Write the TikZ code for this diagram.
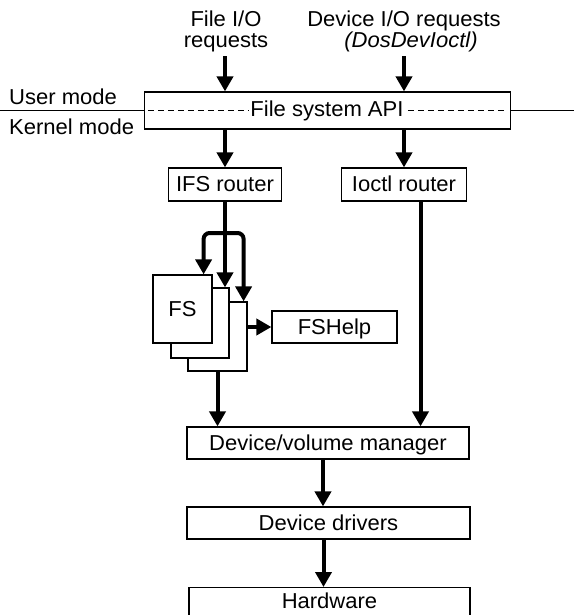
\documentclass[tikz,border=0pt]{standalone}
\usepackage{fontspec}
\setmainfont{Liberation Sans}[FakeStretch=1.02]
\usetikzlibrary{arrows.meta}
\begin{document}
\begin{tikzpicture}[x=1pt,y=-1pt,
  font=\fontsize{21.6}{22}\selectfont,
  box/.style={draw, line width=1.2pt, inner sep=0pt, text height=14pt, text depth=0pt, fill=white},
  arr/.style={line width=4pt, -{Triangle[length=15pt,width=16pt]}},
  thinline/.style={line width=1.2pt}]
\useasboundingbox (0,0) rectangle (574,615);
\clip (0,0) rectangle (574,615);
% mode divider
\coordinate (lend) at (0,111);
\coordinate (rend) at (574,111);
\node[box, minimum width=366pt, minimum height=37pt] (api) at (327.5,110.5) {};
\draw[thinline] (lend |- api.west) -- (api.west);
\draw[thinline] (api.east) -- (rend |- api.east);
\draw[line width=1pt, dash pattern=on 6pt off 4pt] ([xshift=4pt]api.west) -- ([xshift=-4pt]api.east);
\node[fill=white, inner xsep=1pt, inner ysep=0pt, text height=14pt, text depth=0pt] (apitext) at (327,110) {File system API};
% labels
\node[anchor=base] (fio1) at (226,27) {File I/O};
\node[anchor=base] (fio2) at (226,48) {requests};
\node[anchor=base] (dio1) at (404,27) {Device I/O requests};
\node[anchor=base, font=\fontsize{21.6}{22}\selectfont\itshape] (dio2) at (411,48) {(DosDevIoctl)};
\node[anchor=base west, inner sep=0pt] (um) at (9,105) {User mode};
\node[anchor=base west, inner sep=0pt] (km) at (9,135) {Kernel mode};
% boxes
\node[box, minimum width=113pt, minimum height=33pt] (ifs) at (225,184.5) {IFS router};
\node[box, minimum width=125pt, minimum height=33pt] (ioctl) at (404,184.5) {Ioctl router};
\node[box, minimum width=59pt, minimum height=69pt] (fs3) at (217.5,336.5) {};
\node[box, minimum width=58pt, minimum height=70pt] (fs2) at (200,323) {};
\node[box, minimum width=59pt, minimum height=68pt] (fs1) at (182.5,309) {FS};
\node[box, minimum width=125pt, minimum height=32pt] (fshelp) at (334.5,327) {FSHelp};
\node[box, minimum width=282pt, minimum height=32pt] (dvm) at (328,443) {Device/volume manager};
\node[box, minimum width=283pt, minimum height=32pt] (dd) at (328.5,523) {Device drivers};
\node[box, minimum width=281pt, minimum height=50pt, anchor=north, text depth=35pt, inner ysep=7pt] (hw) at (329.5,587) {Hardware};
% arrows
\draw[arr] (ifs.north |- fio2.south) -- (ifs.north |- api.north);
\draw[arr] (ioctl.north |- dio2.south) -- (ioctl.north |- api.north);
\draw[arr] (ifs.north |- api.south) -- (ifs.north);
\draw[arr] (ioctl.north |- api.south) -- (ioctl.north);
\coordinate (br) at (225,233);
\draw[arr] (ifs.south) -- (ifs.south |- fs2.north);
\draw[arr, rounded corners=6pt] (br) -| ([xshift=-9pt]fs1.north east);
\draw[arr, rounded corners=6pt] (br) -| ([xshift=-4pt]fs3.north east);
\draw[arr] (fs3.east |- fshelp.west) -- (fshelp.west);
\draw[arr] (fs3.south) -- (fs3.south |- dvm.north);
\draw[arr] ([xshift=16.5pt]ioctl.south) -- ([xshift=16.5pt]ioctl.south |- dvm.north);
\draw[arr] ([xshift=-5pt]dvm.south) -- ([xshift=-5pt]dvm.south |- dd.north);
\draw[arr] ([xshift=-5pt]dd.south) -- ([xshift=-5pt]dd.south |- hw.north);
\end{tikzpicture}
\end{document}
